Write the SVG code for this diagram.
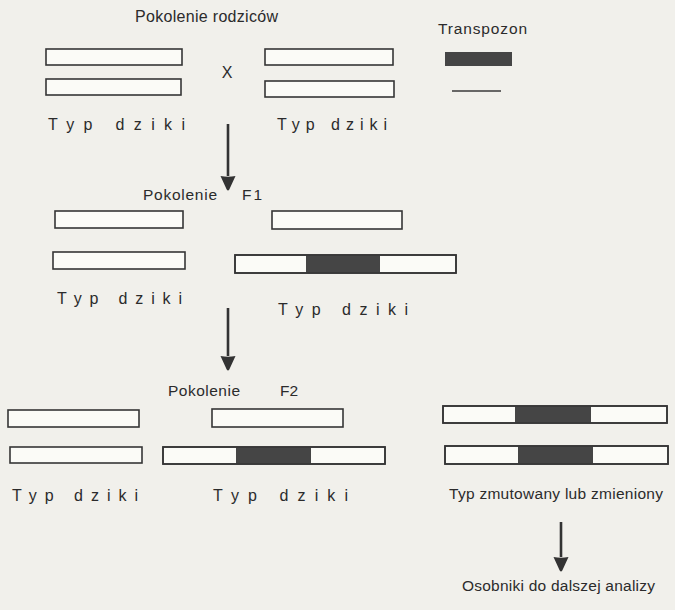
<svg xmlns="http://www.w3.org/2000/svg" width="675" height="610" viewBox="0 0 675 610">
  <style>
    .lbl { font-family: "Liberation Sans", Arial, sans-serif; fill: #2b2b2b; }
    .title { font-size: 16px; }
    .small { font-size: 15.5px; }
    .chr { fill: #fbfbf7; stroke: #363636; stroke-width: 1.6; }
    .ins { fill: #454545; stroke: none; }
    .outline { fill: none; stroke: #363636; stroke-width: 1.6; }
    .arrow { stroke: #333; stroke-width: 2.6; fill: none; marker-end: url(#head); }
  </style>
  <defs>
    <!-- rounded, slightly bulging arrowhead -->
    <marker id="head" markerUnits="userSpaceOnUse" markerWidth="18" markerHeight="16" refX="0" refY="7.5" orient="auto" overflow="visible">
      <path d="M0,0 L13.5,6.2 Q15.5,7.5 13.5,8.8 L0,15 Q1.5,7.5 0,0 Z" fill="#333"/>
    </marker>
  </defs>

  <rect width="675" height="610" fill="#f1f0eb"/>

  <!-- parental generation -->
  <g id="parents-title">
    <text class="lbl title" x="135" y="22" textLength="143" lengthAdjust="spacing">Pokolenie rodziców</text>
  </g>
  <g id="parent-left">
    <rect class="chr" x="46" y="49" width="136" height="16"/>
    <rect class="chr" x="46" y="79" width="135" height="16"/>
    <text class="lbl title" x="48" y="130" textLength="137" lengthAdjust="spacing">Typ dziki</text>
  </g>
  <g id="cross">
    <text class="lbl title" x="227" y="78" text-anchor="middle">X</text>
  </g>
  <g id="parent-right">
    <rect class="chr" x="265" y="49" width="128" height="16"/>
    <rect class="chr" x="265" y="81" width="129" height="16"/>
    <text class="lbl title" x="277" y="130" textLength="110" lengthAdjust="spacing">Typ dziki</text>
  </g>
  <g id="transposon">
    <text class="lbl small" x="438" y="34" textLength="89" lengthAdjust="spacing">Transpozon</text>
    <rect class="ins" x="445" y="52" width="67" height="14"/>
    <line x1="452" y1="91" x2="501" y2="91" stroke="#3a3a3a" stroke-width="1.5"/>
  </g>

  <!-- F1 generation -->
  <g id="f1-title">
    <text class="lbl small" x="143" y="200" textLength="74" lengthAdjust="spacing">Pokolenie</text>
    <text class="lbl small" x="242" y="200" textLength="20" lengthAdjust="spacing">F1</text>
  </g>
  <g id="f1-left">
    <rect class="chr" x="55" y="211" width="128" height="17"/>
    <rect class="chr" x="53" y="252" width="132" height="17"/>
    <text class="lbl title" x="57" y="304" textLength="125" lengthAdjust="spacing">Typ dziki</text>
  </g>
  <g id="f1-right">
    <rect class="chr" x="272" y="211" width="130" height="18"/>
    <rect class="chr" x="235" y="255" width="221" height="18"/>
    <rect class="ins" x="306" y="255" width="74" height="18"/>
    <rect class="outline" x="235" y="255" width="221" height="18"/>
    <text class="lbl title" x="278" y="315" textLength="130" lengthAdjust="spacing">Typ dziki</text>
  </g>

  <!-- F2 generation -->
  <g id="f2-title">
    <text class="lbl small" x="168" y="396" textLength="72" lengthAdjust="spacing">Pokolenie</text>
    <text class="lbl small" x="280" y="396" textLength="18" lengthAdjust="spacing">F2</text>
  </g>
  <g id="f2-left">
    <rect class="chr" x="8" y="410" width="131" height="17"/>
    <rect class="chr" x="10" y="447" width="132" height="16"/>
    <text class="lbl title" x="12" y="501" textLength="126" lengthAdjust="spacing">Typ dziki</text>
  </g>
  <g id="f2-middle">
    <rect class="chr" x="212" y="409" width="131" height="18"/>
    <rect class="chr" x="163" y="447" width="222" height="17"/>
    <rect class="ins" x="236" y="447" width="75" height="17"/>
    <rect class="outline" x="163" y="447" width="222" height="17"/>
    <text class="lbl title" x="213" y="501" textLength="135" lengthAdjust="spacing">Typ dziki</text>
  </g>
  <g id="f2-mutant">
    <rect class="chr" x="443" y="406" width="224" height="17"/>
    <rect class="ins" x="515" y="406" width="76" height="17"/>
    <rect class="outline" x="443" y="406" width="224" height="17"/>
    <rect class="chr" x="445" y="446" width="223" height="18"/>
    <rect class="ins" x="518" y="446" width="75" height="18"/>
    <rect class="outline" x="445" y="446" width="223" height="18"/>
    <text class="lbl small" x="449" y="499" textLength="214" lengthAdjust="spacing">Typ zmutowany lub zmieniony</text>
  </g>
  <g id="analysis">
    <text class="lbl small" x="462" y="591" textLength="193" lengthAdjust="spacing">Osobniki do dalszej analizy</text>
  </g>

  <!-- connectors -->
  <g id="connectors">
    <line class="arrow" x1="228" y1="124" x2="228" y2="176"/>
    <line class="arrow" x1="228" y1="308" x2="228" y2="356"/>
    <line class="arrow" x1="561" y1="522" x2="561" y2="557"/>
  </g>
</svg>
